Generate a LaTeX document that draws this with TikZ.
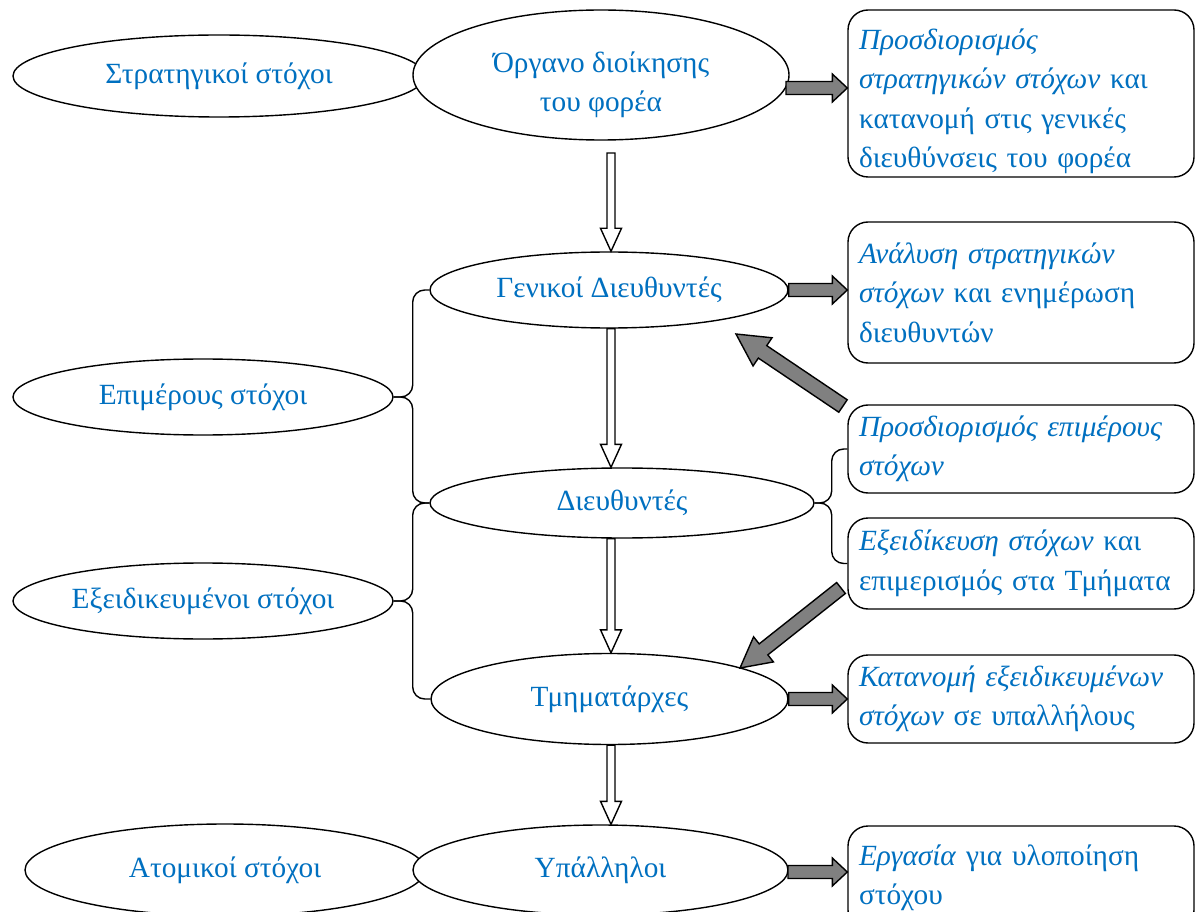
\documentclass[tikz,border=0pt]{standalone}
\usepackage{fontspec}
\setmainfont{Liberation Serif}
\usetikzlibrary{shapes.geometric,calc}
\definecolor{txt}{RGB}{0,112,192}
\definecolor{arrgray}{RGB}{128,128,128}
\newcommand{\blockarr}[6]{%
  \coordinate (ha) at (#2);
  \coordinate (hb) at (#3);
  \coordinate (hc) at ($(hb)!#6!(ha)$);
  \draw[arrbox,fill=#1] ($(ha)!#4!90:(hb)$) -- ($(hc)!#4!90:(hb)$) -- ($(hc)!#5!90:(hb)$) -- (hb) -- ($(hc)!#5!-90:(hb)$) -- ($(hc)!#4!-90:(hb)$) -- ($(ha)!#4!-90:(hb)$) -- cycle;}
\tikzset{
  ell/.style={ellipse, draw, line width=1.4pt, fill=white, inner sep=0pt, text=txt, align=center, font=\fontsize{29.3}{39}\selectfont},
  box/.style={rectangle, rounded corners=20pt, draw, line width=1.4pt, fill=white, text=txt, align=left, text width=324pt, inner xsep=11pt, inner ysep=0pt, minimum width=346pt, font=\fontsize{29.3}{39.5}\selectfont},
  arrbox/.style={line width=1.4pt, line join=miter},
  bline/.style={line width=1.4pt, rounded corners=12pt}
}
\begin{document}
\begin{tikzpicture}[x=1pt,y=-1pt]
\useasboundingbox (0,0) rectangle (1195,912);
\clip (0,0) rectangle (1195,912);
% goal ellipses on the left
\node[ell, minimum width=412pt, minimum height=82pt] (str) at (219,76) {Στρατηγικοί στόχοι};
\node[ell, minimum width=380pt, minimum height=76pt] (epi) at (203,397) {Επιμέρους στόχοι};
\node[ell, minimum width=380pt, minimum height=76pt] (exs) at (203,601) {Εξειδικευμένοι στόχοι};
\node[ell, minimum width=400pt, minimum height=92pt] (atom) at (225,870) {Ατομικοί στόχοι};
% hierarchy ellipses
\node[ell, minimum width=376pt, minimum height=130pt] (og) at (601,75) {\rule{0pt}{40pt}Όργανο διοίκησης\\του φορέα};
\node[ell, minimum width=358pt, minimum height=76pt] (gen) at (609,290) {Γενικοί Διευθυντές};
\node[ell, minimum width=384pt, minimum height=70pt] (dir) at (622,503) {Διευθυντές};
\node[ell, minimum width=357pt, minimum height=91pt] (tmh) at (609.5,699) {Τμηματάρχες};
\node[ell, minimum width=375pt, minimum height=90pt] (yp) at (600.5,870) {Υπάλληλοι};
% boxes
\node[box, minimum height=167pt] (b1) at (1021,93.5) {\rule{0pt}{36pt}\textit{Προσδιορισμός}\\\textit{στρατηγικών στόχων} και\\κατανομή στις γενικές\\διευθύνσεις του φορέα};
\node[box, minimum height=141pt] (b2) at (1021,292.5) {\textit{Ανάλυση στρατηγικών}\\\textit{στόχων} και ενημέρωση\\διευθυντών};
\node[box, minimum height=88pt] (b3) at (1021,449) {\textit{Προσδιορισμός επιμέρους}\\\textit{στόχων}};
\node[box, minimum height=91pt] (b4) at (1021,563.5) {\textit{Εξειδίκευση στόχων} και\\επιμερισμός στα Τμήματα};
\node[box, minimum height=88pt] (b5) at (1021,699) {\textit{Κατανομή εξειδικευμένων}\\\textit{στόχων} σε υπαλλήλους};
\node[box, minimum height=104pt] (b6) at (1021,878) {\textit{Εργασία} για υλοποίηση\\στόχου};
% braces
\draw[bline] (gen.west) -| ($(epi.east)+(19,0)$) -- (epi.east);
\draw[bline] (epi.east) -- ($(epi.east)+(19,0)$) |- (dir.west);
\draw[bline] (dir.west) -| ($(exs.east)+(19,0)$) -- (exs.east);
\draw[bline] (exs.east) -- ($(exs.east)+(19,0)$) |- (tmh.west);
\draw[bline] (dir.east) -- ($(dir.east)+(17,0)$) |- (b3.west);
\draw[bline] (dir.east) -- ($(dir.east)+(17,0)$) |- (b4.west);
% white down arrows
\coordinate (w1) at (611,153);
\coordinate (w1e) at (gen.north -| w1);
\blockarr{white}{w1}{w1e}{4pt}{10.5pt}{23pt}
\coordinate (w2) at (gen.south -| w1);
\coordinate (w2e) at (dir.north -| w1);
\blockarr{white}{w2}{w2e}{4pt}{10.5pt}{23pt}
\coordinate (w3) at (dir.south -| w1);
\coordinate (w3e) at (tmh.north -| w1);
\blockarr{white}{w3}{w3e}{4pt}{10.5pt}{23pt}
\coordinate (w4) at (tmh.south -| w1);
\coordinate (w4e) at (yp.north -| w1);
\blockarr{white}{w4}{w4e}{4pt}{10.5pt}{23pt}
% gray right arrows
\coordinate (t1) at (786,88);
\coordinate (t1e) at (b1.west |- t1);
\blockarr{arrgray}{t1}{t1e}{6.5pt}{14pt}{15pt}
\coordinate (t2e) at (b2.west |- gen.east);
\blockarr{arrgray}{gen.east}{t2e}{6.5pt}{14pt}{15pt}
\coordinate (t3e) at (b5.west |- tmh.east);
\blockarr{arrgray}{tmh.east}{t3e}{6.5pt}{14pt}{15pt}
\coordinate (t4) at (788,872);
\coordinate (t4e) at (b6.west |- t4);
\blockarr{arrgray}{t4}{t4e}{6.5pt}{14pt}{15pt}
% gray diagonal arrows
\coordinate (d1s) at (843,406);
\coordinate (d1e) at (736,334);
\blockarr{arrgray}{d1s}{d1e}{7.5pt}{17pt}{32pt}
\coordinate (d2s) at (841,588);
\coordinate (d2e) at (740,668);
\blockarr{arrgray}{d2s}{d2e}{7pt}{16pt}{30pt}
\end{tikzpicture}
\end{document}
